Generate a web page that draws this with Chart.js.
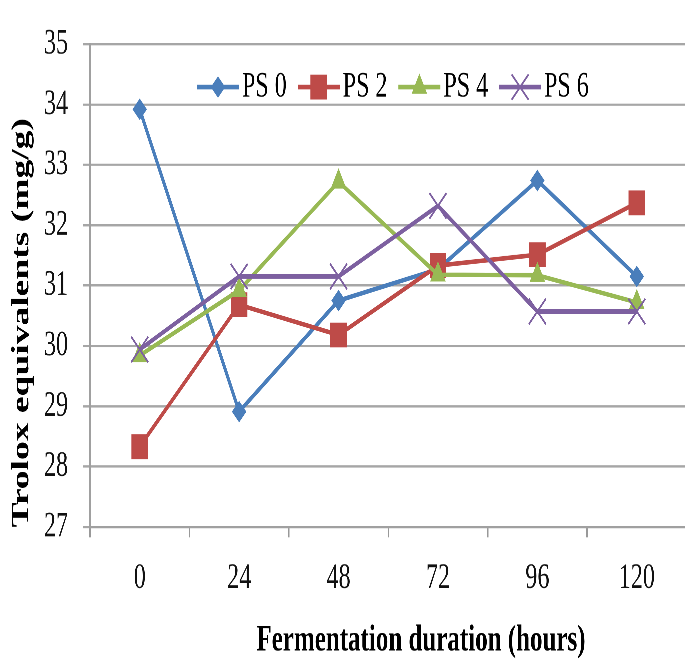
<!DOCTYPE html>
<html><head><meta charset="utf-8">
<script src="https://cdn.jsdelivr.net/npm/chart.js@4.4.1/dist/chart.umd.min.js"></script>
<style>
html,body{margin:0;padding:0;background:#fff;overflow:hidden;width:685px;height:665px}
#wrap{position:absolute;left:0;top:0;width:700px;height:443px;transform:scaleY(1.5011);transform-origin:0 0}
</style></head><body>
<div id="wrap"><canvas id="c" width="700" height="443"></canvas></div>
<script>
const categories = ['0', '24', '48', '72', '96', '120'];
const seriesNames = ['PS 0', 'PS 2', 'PS 4', 'PS 6'];
const ps0 = [33.92, 28.91, 30.75, 31.27, 32.74, 31.15];
const ps2 = [28.33, 30.68, 30.18, 31.33, 31.51, 32.37];
const ps4 = [29.84, 30.92, 32.72, 31.18, 31.17, 30.72];
const ps6 = [29.94, 31.15, 31.15, 32.32, 30.57, 30.57];
const yMin = 27, yMax = 35, yStep = 1;
const xTitle = 'Fermentation duration (hours)';
const yTitle = 'Trolox equivalents (mg/g)';

const FAMILY = '"Times New Roman", "Liberation Serif", "DejaVu Serif", serif';
const colors = ['#4A7EBB', '#BE4B48', '#98B954', '#7D60A0'];
const styles = ['rectRot', 'rect', 'triangle', 'crossRot'];
const radii = [6.5, 11, 8, 12];
const pbw = [1, 1, 1, 1.5];
const allData = [ps0, ps2, ps4, ps6];

const datasets = allData.map((d, i) => ({
  label: seriesNames[i],
  data: d,
  borderColor: colors[i],
  backgroundColor: colors[i],
  pointBackgroundColor: colors[i],
  pointBorderColor: colors[i],
  borderWidth: 3,
  pointStyle: styles[i],
  pointRadius: radii[i],
  pointBorderWidth: pbw[i],
  tension: 0,
  order: 4 - i
}));

const overlay = {
  id: 'overlay',
  afterDraw(chart) {
    const ctx = chart.ctx;
    ctx.save();
    let x = 197; const y = 58;
    ctx.font = '24px ' + FAMILY;
    ctx.textBaseline = 'middle';
    ctx.textAlign = 'left';
    chart.data.datasets.forEach(ds => {
      ctx.strokeStyle = ds.borderColor; ctx.lineWidth = ds.borderWidth;
      ctx.beginPath(); ctx.moveTo(x, y); ctx.lineTo(x + 42, y); ctx.stroke();
      ctx.fillStyle = ds.pointBackgroundColor; ctx.strokeStyle = ds.pointBorderColor;
      ctx.lineWidth = ds.pointBorderWidth;
      Chart.helpers.drawPoint(ctx, {pointStyle: ds.pointStyle, radius: ds.pointRadius, borderWidth: ds.pointBorderWidth, rotation: 0}, x + 21, y);
      ctx.fillStyle = '#000';
      ctx.fillText(ds.label, x + 45, y);
      x += 45 + ctx.measureText(ds.label).width + 11;
    });
    ctx.font = 'bold 25px ' + FAMILY;
    ctx.textAlign = 'center';
    ctx.fillStyle = '#000';
    ctx.fillText(xTitle, 421, 427);
    ctx.translate(22, 215);
    ctx.rotate(-Math.PI / 2);
    ctx.fillText(yTitle, 0, 0);
    ctx.restore();
  }
};

new Chart(document.getElementById('c'), {
  type: 'line',
  data: { labels: categories, datasets },
  options: {
    responsive: false,
    animation: false,
    devicePixelRatio: 3,
    layout: { padding: { top: 15, right: 4, left: 0, bottom: 0 } },
    plugins: { legend: { display: false }, tooltip: { enabled: false } },
    scales: {
      x: {
        type: 'category',
        offset: true,
        grid: { display: true, offset: true, drawOnChartArea: false, drawTicks: true, tickLength: 7, color: '#999', lineWidth: 1.5 },
        border: { display: true, color: '#a0a0a0', width: 1.5 },
        ticks: { font: { family: FAMILY, size: 24 }, color: '#111', padding: 13, maxRotation: 0 },
        afterFit: s => { s.height = 92; }
      },
      y: {
        min: yMin, max: yMax,
        ticks: { stepSize: yStep, font: { family: FAMILY, size: 24 }, color: '#111', padding: 15 },
        grid: { color: '#a6a6a6', lineWidth: 1.5, tickLength: 7 },
        border: { display: true, color: '#a0a0a0', width: 1.5 },
        afterFit: s => { s.width = 90; }
      }
    }
  },
  plugins: [overlay]
});
</script>
</body></html>
